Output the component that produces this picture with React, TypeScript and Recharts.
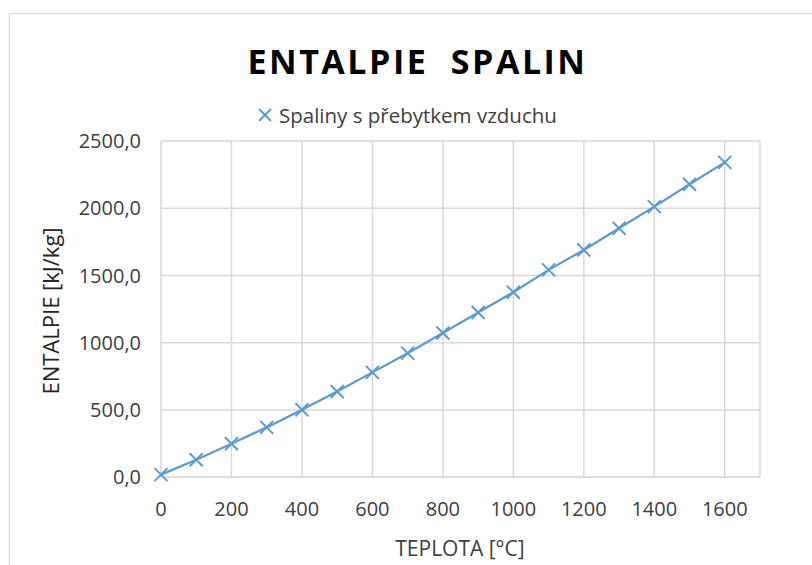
import React from "react";
import { LineChart, Line, XAxis, YAxis, CartesianGrid } from "recharts";

const temperatures = [0, 100, 200, 300, 400, 500, 600, 700, 800, 900, 1000, 1100, 1200, 1300, 1400, 1500, 1600];
const enthalpy = [20, 131, 250, 371, 502, 638, 780, 923, 1073, 1225, 1376, 1542, 1690, 1851, 2012, 2178, 2341];
const xTicks = [0, 200, 400, 600, 800, 1000, 1200, 1400, 1600];
const yTicks = [0, 500, 1000, 1500, 2000, 2500];

const seriesName = "Spaliny s přebytkem vzduchu";
const titleText = "ENTALPIE\u00a0\u00a0SPALIN";
const xTitle = "TEPLOTA [°C]";
const yTitle = "ENTALPIE [kJ/kg]";

const data = temperatures.map((t, i) => ({ t, h: enthalpy[i] }));

const BLUE = "#5B9BD5";
const GRID = "#d9d9d9";
const TEXT = "#404040";
const FONT = "'Open Sans', 'Noto Sans', sans-serif";

const CrossDot = (props: any) => {
  const { cx, cy, index } = props;
  if (cx == null || cy == null) return <g key={`d${index}`} />;
  const s = 6.5;
  return (
    <g key={`d${index}`}>
      <line x1={cx - s} y1={cy - s} x2={cx + s} y2={cy + s} stroke={BLUE} strokeWidth={2} />
      <line x1={cx - s} y1={cy + s} x2={cx + s} y2={cy - s} stroke={BLUE} strokeWidth={2} />
    </g>
  );
};

export default function App() {
  return (
    <div style={{ position: "absolute", left: 0, top: 0, width: 812, height: 565, overflow: "hidden", background: "#fff", fontFamily: FONT }}>
      <div style={{ position: "absolute", left: 9, top: 13, width: 820, height: 570, border: `1.5px solid ${GRID}`, boxSizing: "border-box" }} />
      <div style={{ position: "absolute", left: 0, top: 36, width: 835, textAlign: "center", fontSize: 34, fontWeight: 700, letterSpacing: 2.5, color: "#000", lineHeight: "50px", whiteSpace: "pre" }}>
        {titleText}
      </div>
      <div style={{ position: "absolute", left: 257, top: 101, display: "flex", alignItems: "center", fontSize: 20.5, color: TEXT, lineHeight: "28px", whiteSpace: "nowrap" }}>
        <svg width={16} height={16} style={{ marginRight: 6 }}>
          <line x1={2} y1={2} x2={14} y2={14} stroke={BLUE} strokeWidth={2} />
          <line x1={2} y1={14} x2={14} y2={2} stroke={BLUE} strokeWidth={2} />
        </svg>
        <span>{seriesName}</span>
      </div>
      <div style={{ position: "absolute", left: 50, top: 311, transform: "translate(-50%, -50%) rotate(-90deg)", fontSize: 22, color: "#262626", whiteSpace: "nowrap", lineHeight: "30px" }}>
        {yTitle}
      </div>
      <div style={{ position: "absolute", left: 460, top: 548, transform: "translate(-50%, -50%)", fontSize: 21, color: TEXT, whiteSpace: "nowrap", lineHeight: "28px" }}>
        {xTitle}
      </div>
      <div style={{ position: "absolute", left: 0, top: 0 }}>
        <LineChart width={812} height={565} data={data} margin={{ top: 141, right: 52, bottom: 57.7, left: 101 }}>
          <CartesianGrid stroke={GRID} strokeWidth={1.5} />
          <XAxis
            dataKey="t"
            type="number"
            domain={[0, 1700]}
            ticks={xTicks}
            height={30}
            axisLine={{ stroke: GRID, strokeWidth: 1.5 }}
            tickLine={false}
            tickMargin={18}
            tick={{ fill: TEXT, fontSize: 20, fontFamily: FONT }}
          />
          <YAxis
            type="number"
            domain={[0, 2500]}
            ticks={yTicks}
            width={60}
            axisLine={false}
            tickLine={false}
            tickMargin={14}
            tickFormatter={(v: number) => v.toFixed(1).replace(".", ",")}
            tick={{ fill: TEXT, fontSize: 20, fontFamily: FONT }}
          />
          <Line dataKey="h" stroke={BLUE} strokeWidth={2.25} dot={CrossDot} isAnimationActive={false} />
        </LineChart>
      </div>
    </div>
  );
}
